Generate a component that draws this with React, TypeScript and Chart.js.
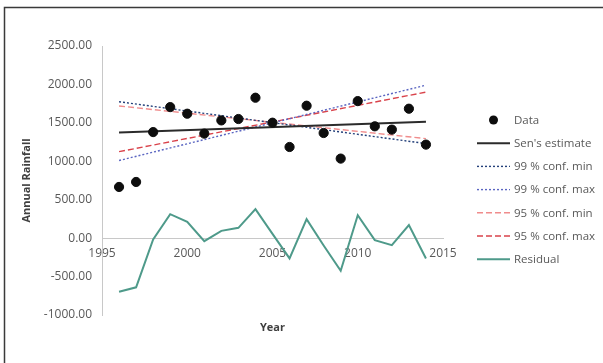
import React, { useEffect, useRef } from "react";
import { Chart, registerables } from "chart.js";

Chart.register(...registerables);

// Observation years and annual rainfall totals
const years = [1996, 1997, 1998, 1999, 2000, 2001, 2002, 2003, 2004, 2005, 2006, 2007, 2008, 2009, 2010, 2011, 2012, 2013, 2014];
const annualRainfall = [666, 731, 1380, 1705, 1619, 1360, 1532, 1550, 1827, 1502, 1186, 1723, 1368, 1035, 1783, 1455, 1412, 1684, 1217];
const residuals = [-697, -640, -17, 312, 212, -39, 95, 134, 377, 55, -264, 247, -95, -425, 298, -26, -91, 169, -264];

// Trend lines (Sen's slope and confidence bounds), start and end of the record
const trendYears = [1996, 2014];
const sensEstimate = [1375, 1515];
const conf99Min = [1775, 1230];
const conf99Max = [1010, 1990];
const conf95Min = [1720, 1295];
const conf95Max = [1125, 1900];

const yTicks = [-1000, -500, 0, 500, 1000, 1500, 2000, 2500];
const xTicks = [1995, 2000, 2005, 2010, 2015];

const FONT = "'Open Sans', 'Liberation Sans', sans-serif";
const TEXT = "#595959";

const toPoints = (xs: number[], ys: number[]) => xs.map((x, i) => ({ x, y: ys[i] }));

// Outer frame and white background
const framePlugin = {
  id: "frame",
  beforeDraw(chart: any) {
    const { ctx, width, height } = chart;
    ctx.save();
    ctx.fillStyle = "#ffffff";
    ctx.fillRect(0, 0, width, height);
    ctx.strokeStyle = "#3a3a3a";
    ctx.lineWidth = 1.5;
    ctx.beginPath();
    ctx.moveTo(4.5, height);
    ctx.lineTo(4.5, 7.5);
    ctx.lineTo(width, 7.5);
    ctx.stroke();
    ctx.restore();
  },
};

// Legend on the right: one row per dataset
const sideLegendPlugin = {
  id: "sideLegend",
  afterDraw(chart: any) {
    const { ctx } = chart;
    const x0 = 477;
    const x1 = 510;
    const top = 120;
    const rowGap = 23.2;
    ctx.save();
    chart.data.datasets.forEach((ds: any, i: number) => {
      const y = top + i * rowGap;
      if (ds.showLine === false) {
        ctx.fillStyle = ds.pointBackgroundColor;
        ctx.beginPath();
        ctx.arc((x0 + x1) / 2, y, 4.5, 0, Math.PI * 2);
        ctx.fill();
      } else {
        ctx.strokeStyle = ds.borderColor;
        ctx.lineWidth = ds.borderWidth;
        ctx.setLineDash(ds.borderDash || []);
        ctx.beginPath();
        ctx.moveTo(x0, y);
        ctx.lineTo(x1, y);
        ctx.stroke();
        ctx.setLineDash([]);
      }
      ctx.fillStyle = TEXT;
      ctx.font = `11.5px ${FONT}`;
      ctx.textBaseline = "middle";
      ctx.textAlign = "left";
      ctx.fillText(ds.label, x1 + 4, y + 0.5);
    });
    ctx.restore();
  },
};

export default function App() {
  const canvasRef = useRef<HTMLCanvasElement>(null);

  useEffect(() => {
    if (!canvasRef.current) return;
    const lineSet = (label: string, ys: number[], color: string, width: number, dash: number[]) => ({
      label,
      data: toPoints(trendYears, ys),
      borderColor: color,
      backgroundColor: color,
      borderWidth: width,
      borderDash: dash,
      pointRadius: 0,
      fill: false,
    });

    const chart = new Chart(canvasRef.current, {
      type: "line",
      data: {
        datasets: [
          {
            label: "Data",
            data: toPoints(years, annualRainfall),
            showLine: false,
            pointRadius: 4.6,
            pointBackgroundColor: "#0d0d0d",
            pointBorderColor: "#0d0d0d",
            borderColor: "#0d0d0d",
            backgroundColor: "#0d0d0d",
          },
          lineSet("Sen's estimate", sensEstimate, "#2b2b2b", 2, []),
          lineSet("99 % conf. min", conf99Min, "#24407a", 1.4, [2, 2]),
          lineSet("99 % conf. max", conf99Max, "#5b66c2", 1.4, [2, 2]),
          lineSet("95 % conf. min", conf95Min, "#f08c8c", 1.4, [6, 3]),
          lineSet("95 % conf. max", conf95Max, "#d9434b", 1.4, [6, 3]),
          {
            label: "Residual",
            data: toPoints(years, residuals),
            borderColor: "#4e9a8a",
            backgroundColor: "#4e9a8a",
            borderWidth: 2,
            pointRadius: 0,
            fill: false,
            tension: 0,
          },
        ],
      },
      options: {
        animation: false,
        responsive: false,
        layout: { padding: { left: 20, right: 160, top: 46, bottom: 28.4 } },
        plugins: {
          legend: { display: false },
          tooltip: { enabled: false },
        },
        scales: {
          x: {
            type: "linear",
            position: { y: 0 } as any,
            min: 1995,
            max: 2015,
            afterBuildTicks: (scale: any) => {
              scale.ticks = xTicks.map((v) => ({ value: v }));
            },
            ticks: {
              callback: (v: any) => String(v),
              color: TEXT,
              font: { family: FONT, size: 12 },
              padding: 8,
              maxRotation: 0,
            },
            grid: { display: false, drawTicks: false },
            border: { display: true, color: "#c8c8c8", width: 1 },
          },
          xTitle: {
            type: "linear",
            position: "bottom",
            min: 1995,
            max: 2015,
            ticks: { display: false },
            grid: { display: false, drawTicks: false },
            border: { display: false },
            title: {
              display: true,
              text: "Year",
              color: "#404040",
              font: { family: FONT, size: 11, weight: "bold" },
              padding: { top: 6.4, bottom: 0 },
            },
          },
          y: {
            type: "linear",
            position: "left",
            min: -1000,
            max: 2500,
            afterBuildTicks: (scale: any) => {
              scale.ticks = yTicks.map((v) => ({ value: v }));
            },
            afterFit: (scale: any) => {
              scale.width = 82;
            },
            ticks: {
              callback: (v: any) => Number(v).toFixed(2),
              color: TEXT,
              font: { family: FONT, size: 12 },
              padding: 10,
            },
            grid: { display: false, drawTicks: false },
            border: { display: true, color: "#c8c8c8", width: 1 },
            title: {
              display: true,
              text: "Annual Rainfall",
              color: "#404040",
              font: { family: FONT, size: 11, weight: "bold" },
              padding: { top: 0, bottom: 0 },
            },
          },
        },
      } as any,
      plugins: [framePlugin, sideLegendPlugin],
    });
    return () => chart.destroy();
  }, []);

  return (
    <div style={{ position: "fixed", left: 0, top: 0, width: 603, height: 363, background: "#fff" }}>
      <canvas ref={canvasRef} width={603} height={363} />
    </div>
  );
}
